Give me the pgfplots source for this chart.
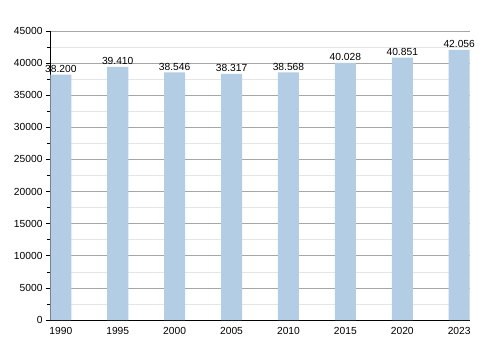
\documentclass[border=0pt]{standalone}
\usepackage{pgfplots}
\pgfplotsset{compat=1.18}
\usepackage{fontspec}
\setmainfont{Liberation Sans}
\definecolor{barblue}{HTML}{B3CDE4}
\begin{document}
\begin{tikzpicture}
\begin{axis}[
  name=ax,
  scale only axis,
  width=420bp, height=289bp,
  ymin=0, ymax=45000,
  xmin=-0.19, xmax=7.19,
  ytick={0,5000,...,45000},
  minor ytick={2500,7500,...,42500},
  xtick={0,...,7},
  xticklabels={1990,1995,2000,2005,2010,2015,2020,2023},
  axis x line*=bottom,
  axis y line*=left,
  axis line style={black, line width=0.8pt},
  x axis line style={-},
  y axis line style={-},
  ymajorgrids, yminorgrids,
  major grid style={draw=black!35, line width=0.6pt},
  minor grid style={draw=black!10, line width=0.6pt},
  tick align=outside,
  major tick length=4bp,
  minor tick length=3bp,
  xtick style={draw=none},
  ytick style={black, line width=0.6pt},
  tick label style={font=\fontsize{10.3}{12}\selectfont},
  yticklabel style={/pgf/number format/.cd, fixed, set thousands separator={}, assume math mode=true},
  scaled y ticks=false,
  ybar, bar width=0.37,
  point meta=explicit symbolic,
  nodes near coords,
  nodes near coords style={font=\fontsize{10.3}{12}\selectfont, black, inner sep=1bp, yshift=1bp},
  clip=false,
]
\addplot[fill=barblue, draw=none] table[meta=label] {
x y label
0 38200 38.200
1 39410 39.410
2 38546 38.546
3 38317 38.317
4 38568 38.568
5 40028 40.028
6 40851 40.851
7 42056 42.056
};
\end{axis}
\path[use as bounding box] ([shift={(-50bp,-30bp)}]ax.south west) rectangle ([shift={(30bp,31bp)}]ax.north east);
\end{tikzpicture}
\end{document}
